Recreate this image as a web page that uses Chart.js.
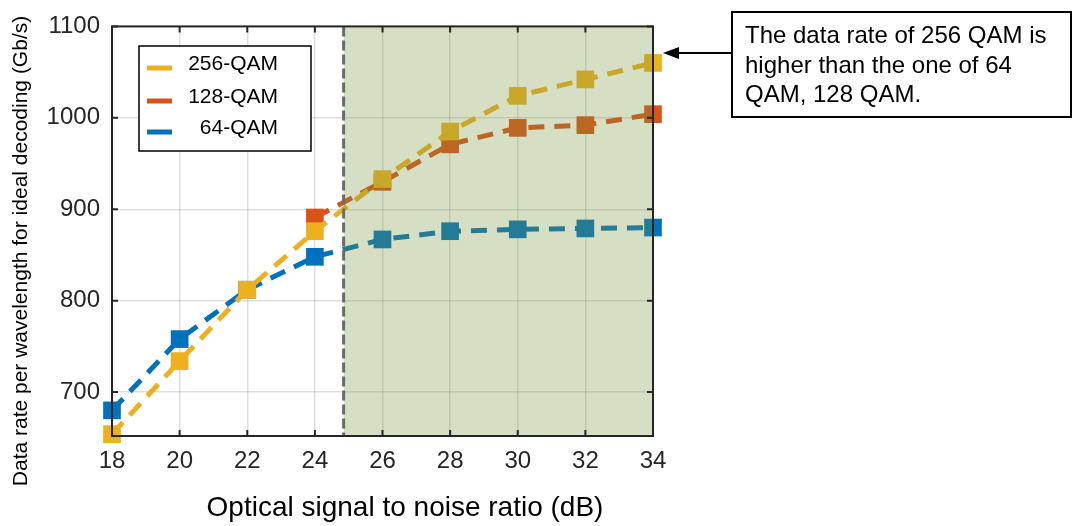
<!DOCTYPE html>
<html>
<head>
<meta charset="utf-8">
<script src="https://cdn.jsdelivr.net/npm/chart.js@4.4.0/dist/chart.umd.min.js"></script>
<style>
  html, body { margin: 0; padding: 0; background: #fff; }
  #wrap { width: 1075px; height: 526px; }
</style>
</head>
<body>
<div id="wrap"><canvas id="chart" width="1075" height="526"></canvas></div>
<script>
// data
const osnr = [18, 20, 22, 24, 26, 28, 30, 32, 34];
const qam256 = [654, 734, 812, 876, 933, 985, 1024, 1042, 1060];
const qam128 = [null, null, null, 891, 930, 971, 989, 992, 1004];
const qam64 = [680, 758, 812, 848, 867, 876, 878, 879, 880];
const xTicks = [18, 20, 22, 24, 26, 28, 30, 32, 34];
const yTicks = [700, 800, 900, 1000, 1100];
const shadeFrom = 24.85;
const seriesNames = ['256-QAM', '128-QAM', ' 64-QAM'];
const seriesColors = ['#EDB120', '#D95319', '#0072BD'];
const noteLines = ['The data rate of 256 QAM is', 'higher than the one of 64', 'QAM, 128 QAM.'];

const FONT = '"Liberation Sans", Arial, sans-serif';

function toPoints(vals) {
  return osnr.map((x, i) => ({ x: x, y: vals[i] }));
}

function makeSet(label, vals, color) {
  return {
    label: label,
    data: toPoints(vals),
    borderColor: color,
    backgroundColor: color,
    borderWidth: 5,
    borderDash: [16, 10],
    pointStyle: 'rect',
    pointRadius: 12.5,
    pointBorderWidth: 0,
    pointBorderColor: color,
    pointBackgroundColor: color,
    tension: 0,
    spanGaps: false,
    clip: false
  };
}

const extras = {
  id: 'extras',
  afterDatasetsDraw(chart) {
    const ctx = chart.ctx;
    const a = chart.chartArea;
    const xs = chart.scales.x, ys = chart.scales.y;
    const x0 = xs.getPixelForValue(shadeFrom);
    ctx.save();
    // shaded region over the data
    ctx.fillStyle = 'rgba(119,147,60,0.3)';
    ctx.fillRect(x0, a.top, a.right - x0, a.bottom - a.top);
    // dashed separator
    ctx.strokeStyle = '#6b6b6b';
    ctx.lineWidth = 3;
    ctx.setLineDash([10, 4]);
    ctx.beginPath();
    ctx.moveTo(x0, a.top);
    ctx.lineTo(x0, a.bottom);
    ctx.stroke();
    ctx.setLineDash([]);
    // box
    ctx.strokeStyle = '#262626';
    ctx.lineWidth = 2;
    ctx.strokeRect(a.left, a.top, a.right - a.left, a.bottom - a.top);
    // inward ticks
    ctx.beginPath();
    xTicks.forEach(v => {
      const px = xs.getPixelForValue(v);
      ctx.moveTo(px, a.bottom); ctx.lineTo(px, a.bottom - 6);
      ctx.moveTo(px, a.top); ctx.lineTo(px, a.top + 6);
    });
    yTicks.forEach(v => {
      const py = ys.getPixelForValue(v);
      ctx.moveTo(a.left, py); ctx.lineTo(a.left + 6, py);
      ctx.moveTo(a.right, py); ctx.lineTo(a.right - 6, py);
    });
    ctx.stroke();
    ctx.restore();
  },
  afterDraw(chart) {
    const ctx = chart.ctx;
    ctx.save();
    // axis titles
    ctx.fillStyle = '#000';
    ctx.textAlign = 'center';
    ctx.textBaseline = 'middle';
    ctx.font = '28px ' + FONT;
    ctx.fillText('Optical signal to noise ratio (dB)', 405, 508);
    ctx.translate(21, 251);
    ctx.rotate(-Math.PI / 2);
    ctx.font = '21px ' + FONT;
    ctx.fillText('Data rate per wavelength for ideal decoding (Gb/s)', 0, 0);
    ctx.restore();

    // legend
    ctx.save();
    ctx.fillStyle = '#fff';
    ctx.fillRect(139, 46, 172, 105);
    ctx.strokeStyle = '#000';
    ctx.lineWidth = 1.5;
    ctx.strokeRect(139, 46, 172, 105);
    ctx.font = '21px ' + FONT;
    ctx.textAlign = 'right';
    ctx.textBaseline = 'middle';
    const rows = [64, 97, 128];
    seriesNames.forEach((name, i) => {
      ctx.strokeStyle = seriesColors[i];
      ctx.lineWidth = 5;
      ctx.beginPath();
      ctx.moveTo(147, rows[i] + 4);
      ctx.lineTo(172, rows[i] + 4);
      ctx.stroke();
      ctx.fillStyle = '#000';
      ctx.fillText(name, 278, rows[i]);
    });
    ctx.restore();

    // note box with arrow
    ctx.save();
    ctx.fillStyle = '#fff';
    ctx.fillRect(732, 12, 339, 105);
    ctx.strokeStyle = '#000';
    ctx.lineWidth = 2;
    ctx.strokeRect(732, 12, 339, 105);
    ctx.font = '24px ' + FONT;
    ctx.fillStyle = '#000';
    ctx.textAlign = 'left';
    ctx.textBaseline = 'alphabetic';
    noteLines.forEach((t, i) => ctx.fillText(t, 745, 43 + i * 29.5));
    const ay = 53;
    ctx.beginPath();
    ctx.moveTo(732, ay);
    ctx.lineTo(676, ay);
    ctx.stroke();
    ctx.beginPath();
    ctx.moveTo(663, ay);
    ctx.lineTo(679, ay - 6);
    ctx.lineTo(679, ay + 6);
    ctx.closePath();
    ctx.fill();
    ctx.restore();
  }
};

new Chart(document.getElementById('chart'), {
  type: 'line',
  data: {
    datasets: [
      makeSet(seriesNames[0], qam256, seriesColors[0]),
      makeSet(seriesNames[1], qam128, seriesColors[1]),
      makeSet(seriesNames[2], qam64, seriesColors[2])
    ]
  },
  options: {
    responsive: false,
    animation: false,
    layout: { padding: { left: 0, right: 422, top: 22, bottom: 0 } },
    plugins: { legend: { display: false }, tooltip: { enabled: false } },
    scales: {
      x: {
        type: 'linear',
        min: 18,
        max: 34,
        afterBuildTicks: s => { s.ticks = xTicks.map(v => ({ value: v })); },
        afterFit: s => { s.height = 90; },
        grid: { color: 'rgba(0,0,0,0.13)', lineWidth: 1.5, drawTicks: false },
        border: { display: false },
        ticks: { color: '#262626', font: { size: 24, family: FONT }, padding: 11, maxRotation: 0,
          callback: v => String(v) }
      },
      y: {
        type: 'linear',
        min: 652,
        max: 1100,
        afterBuildTicks: s => { s.ticks = yTicks.map(v => ({ value: v })); },
        afterFit: s => { s.width = 112; },
        grid: { color: 'rgba(0,0,0,0.13)', lineWidth: 1.5, drawTicks: false },
        border: { display: false },
        ticks: { color: '#262626', font: { size: 24, family: FONT }, padding: 12,
          callback: v => String(v) }
      }
    }
  },
  plugins: [extras]
});
</script>
</body>
</html>
